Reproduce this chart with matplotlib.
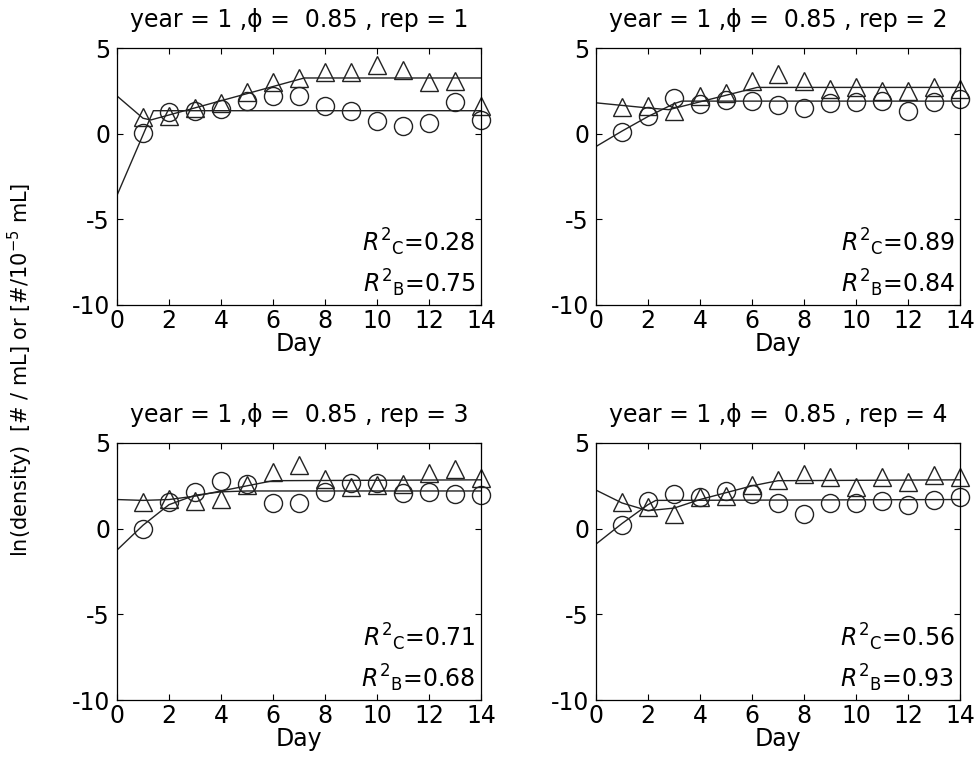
import matplotlib
matplotlib.use("Agg")
import matplotlib.pyplot as plt

plt.rcParams["font.family"] = ["DejaVu Sans"]
plt.rcParams["mathtext.fontset"] = "dejavusans"
plt.rcParams["axes.unicode_minus"] = False

days = list(range(1, 15))
reps = [1, 2, 3, 4]

# observed ln(density), triangles (B) and circles (C)
tri = [
    [1.0, 1.05, 1.5, 1.8, 2.45, 3.0, 3.25, 3.6, 3.6, 4.0, 3.7, 3.0, 3.05, 1.6],
    [1.55, 1.6, 1.3, 2.2, 2.4, 3.05, 3.5, 3.1, 2.6, 2.7, 2.5, 2.5, 2.75, 2.6],
    [1.57, 1.76, 1.63, 1.76, 2.55, 3.33, 3.73, 2.88, 2.45, 2.55, 2.6, 3.24, 3.47, 2.95],
    [1.57, 1.24, 0.88, 1.86, 1.9, 2.55, 2.84, 3.2, 3.0, 2.45, 3.04, 2.75, 3.14, 3.04],
]
circ = [
    [0.04, 1.24, 1.35, 1.43, 1.9, 2.2, 2.2, 1.6, 1.33, 0.72, 0.47, 0.62, 1.82, 0.8],
    [0.1, 1.05, 2.1, 1.75, 1.95, 1.9, 1.7, 1.5, 1.8, 1.85, 1.9, 1.35, 1.85, 2.0],
    [0.0, 1.57, 2.16, 2.8, 2.6, 1.5, 1.47, 2.16, 2.65, 2.65, 2.1, 2.16, 2.0, 1.96],
    [0.2, 1.63, 2.0, 1.86, 2.2, 2.0, 1.5, 0.88, 1.5, 1.5, 1.6, 1.37, 1.67, 1.86],
]

# fitted curves (breakpoints)
fit_tri_x = [
    [0, 1, 1.3, 7.2, 14],
    [0, 2, 2.8, 6.2, 14],
    [0, 1, 2, 3, 4, 5, 6, 14],
    [0, 1, 2, 3, 4, 5, 6, 7, 14],
]
fit_tri_y = [
    [2.2, 0.9, 0.8, 3.25, 3.25],
    [1.8, 1.5, 1.4, 2.7, 2.7],
    [1.7, 1.65, 1.7, 1.9, 2.2, 2.5, 2.8, 2.85],
    [2.25, 1.5, 1.05, 1.2, 1.7, 2.1, 2.5, 2.8, 2.85],
]
fit_circ_x = [
    [0, 1.4, 14],
    [0, 1, 2, 3, 3.3, 14],
    [0, 1, 2, 3, 4, 5, 14],
    [0, 1, 2, 2.3, 14],
]
fit_circ_y = [
    [-3.6, 1.34, 1.34],
    [-0.75, 0.15, 1.0, 1.75, 1.9, 1.9],
    [-1.25, 0.2, 1.4, 1.95, 2.15, 2.2, 2.2],
    [-0.9, 0.3, 1.4, 1.65, 1.7],
]

r2_c = ["0.28", "0.89", "0.71", "0.56"]
r2_b = ["0.75", "0.84", "0.68", "0.93"]

fig = plt.figure(figsize=(9.75, 7.81), dpi=100)
W, H = 975, 781
boxes = [(117, 48), (596, 48), (117, 443), (596, 443)]
aw, ah = 364, 257

for i, (x0, y0) in enumerate(boxes):
    ax = fig.add_axes([x0 / W, 1 - (y0 + ah) / H, aw / W, ah / H])
    ax.plot(fit_tri_x[i], fit_tri_y[i], color="#222222", lw=1.0)
    ax.plot(fit_circ_x[i], fit_circ_y[i], color="#222222", lw=1.0)
    ax.plot(days, tri[i], ls="none", marker="^", ms=13, mfc="none",
            mec="#222222", mew=1.0, clip_on=False)
    ax.plot(days, circ[i], ls="none", marker="o", ms=13, mfc="none",
            mec="#222222", mew=1.0, clip_on=False)
    ax.set_xlim(0, 14)
    ax.set_ylim(-10, 5)
    ax.set_xticks(range(0, 15, 2))
    ax.set_yticks([-10, -5, 0, 5])
    ax.tick_params(direction="in", top=True, right=True, labelsize=17,
                   length=4, width=0.8)
    ax.tick_params(axis="x", pad=3)
    ax.tick_params(axis="y", pad=5)
    for sp in ax.spines.values():
        sp.set_linewidth(0.9)
    ax.set_xlabel("Day", fontsize=17, labelpad=-1)
    ax.set_title(f"year = 1 ,\u03d5 =  0.85 , rep = {reps[i]}", fontsize=17, pad=15)
    ax.text(0.985, 0.245, r"$R^{2}{}_{\mathrm{C}}$=" + r2_c[i], transform=ax.transAxes,
            ha="right", va="center", fontsize=17)
    ax.text(0.985, 0.085, r"$R^{2}{}_{\mathrm{B}}$=" + r2_b[i], transform=ax.transAxes,
            ha="right", va="center", fontsize=17)

fig.text(20 / W, 1 - 370 / H, r"ln(density)  [# / mL] or [#/10$^{-5}$ mL]",
         rotation=90, ha="center", va="center", fontsize=15)

fig.savefig("out.png", dpi=100)
